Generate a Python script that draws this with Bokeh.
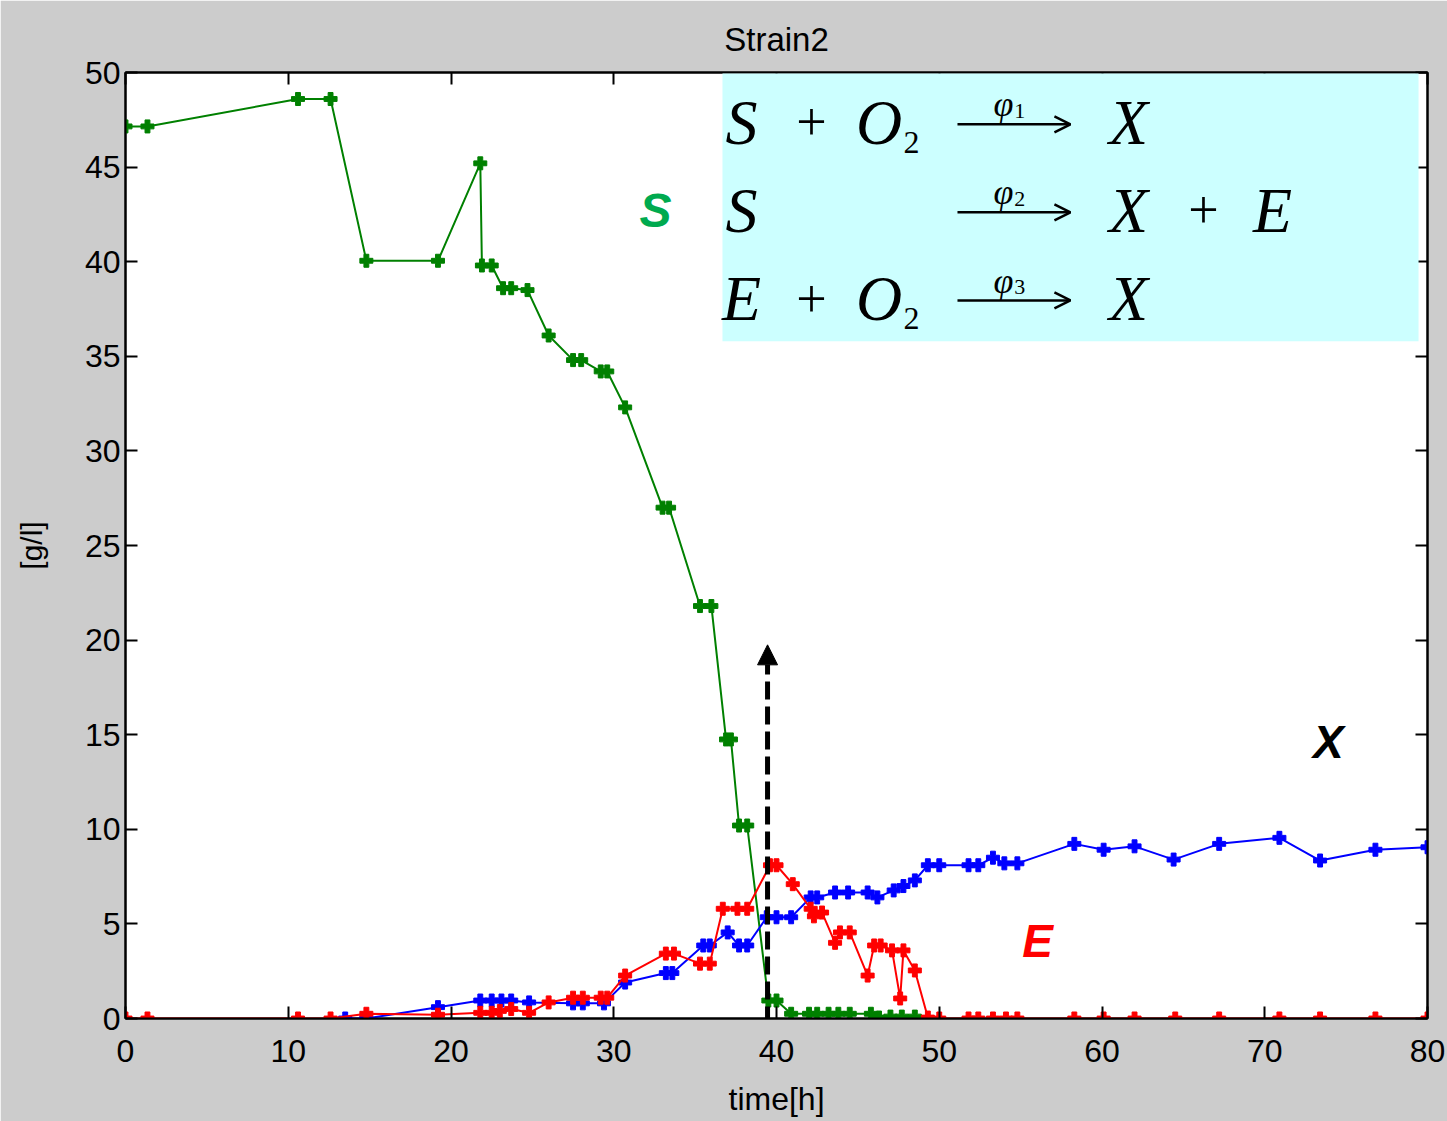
from bokeh.plotting import figure
from bokeh.models import (LinearAxis, Range1d, BoxAnnotation, Label, Arrow,
                          NormalHead, OpenHead, FixedTicker)
from bokeh.embed import file_html
from bokeh.resources import INLINE

# ---------------- data ----------------
t_S = [0, 1.35, 10.6, 12.6, 14.8, 19.2, 21.8, 21.9, 22.5, 23.2,
       23.7, 24.7, 26.0, 27.5, 28.0, 29.2, 29.6, 30.7, 33.0, 33.4,
       35.3, 36.0, 36.9, 37.2, 37.7, 38.2, 39.5, 40.0, 40.9, 42.0,
       42.5, 43.2, 43.8, 44.5, 45.8, 46.3, 47.0, 47.7, 48.5]
S = [47.15, 47.15, 48.6, 48.6, 40.05, 40.05, 45.2, 39.8, 39.8, 38.6,
     38.6, 38.5, 36.1, 34.8, 34.8, 34.2, 34.2, 32.3, 27.0, 27.0,
     21.8, 21.8, 14.75, 14.75, 10.2, 10.2, 0.95, 0.95, 0.25, 0.25,
     0.25, 0.25, 0.25, 0.25, 0.25, 0.05, 0.1, 0.1, 0.1]

t_X = [13.5, 14.8, 19.2, 21.8, 22.5, 23.1, 23.7, 24.8, 27.5, 28.1,
       29.4, 30.7, 33.2, 33.6, 35.5, 35.9, 37.0, 37.7, 38.2, 39.4,
       40.0, 40.9, 42.1, 42.5, 43.6, 44.4, 45.6, 46.2, 47.2, 47.8,
       48.5, 49.3, 50.0, 51.8, 52.4, 53.3, 54.0, 54.8, 58.3, 60.1,
       62.0, 64.4, 67.2, 70.9, 73.4, 76.8, 80.0]
X = [0, 0, 0.6, 0.95, 0.95, 0.95, 0.95, 0.85, 0.8, 0.8,
     0.8, 1.9, 2.4, 2.4, 3.86, 3.86, 4.55, 3.86, 3.86, 5.35,
     5.35, 5.35, 6.4, 6.4, 6.66, 6.66, 6.66, 6.4, 6.77, 7.0,
     7.3, 8.1, 8.1, 8.1, 8.1, 8.5, 8.2, 8.2, 9.23, 8.92,
     9.1, 8.4, 9.23, 9.55, 8.35, 8.92, 9.05]

t_E = [0, 1.35, 10.6, 12.6, 14.8, 19.2, 21.8, 22.5, 23.0, 23.7,
       24.8, 26.0, 27.5, 28.1, 29.2, 29.6, 30.7, 33.2, 33.7, 35.3,
       35.9, 36.7, 37.6, 38.2, 39.6, 40.0, 41.0, 42.1, 42.3, 42.8,
       43.6, 43.9, 44.5, 45.6, 46.0, 46.4, 47.1, 47.6, 47.8, 48.5,
       49.3, 50.0, 51.8, 52.4, 53.3, 54.1, 54.8, 58.3, 60.1, 62.0,
       64.5, 67.2, 70.9, 73.4, 76.8, 80.0]
E = [0, 0, 0, 0, 0.25, 0.2, 0.3, 0.3, 0.4, 0.5,
     0.3, 0.85, 1.1, 1.1, 1.1, 1.1, 2.27, 3.43, 3.43, 2.9,
     2.9, 5.8, 5.8, 5.8, 8.1, 8.1, 7.1, 5.8, 5.4, 5.6,
     4.0, 4.55, 4.55, 2.27, 3.86, 3.86, 3.6, 1.06, 3.6, 2.54,
     0.05, 0, 0, 0, 0, 0, 0, 0, 0, 0,
     0, 0, 0, 0, 0, 0]

x_ticks = [0, 10, 20, 30, 40, 50, 60, 70, 80]
y_ticks = [0, 5, 10, 15, 20, 25, 30, 35, 40, 45, 50]

title_text = "Strain2"
x_label = "time[h]"
y_label = "[g/l]"

GREEN = "#008000"
BLUE = "#0000ff"
RED = "#ff0000"
SANS = "Liberation Sans"
SERIF = "Liberation Serif"

p = figure(frame_width=1302, frame_height=946,
           x_range=Range1d(0, 80), y_range=Range1d(0, 50),
           output_backend="svg", toolbar_location=None,
           min_border_left=125, min_border_right=20,
           min_border_top=72, min_border_bottom=103,
           background_fill_color="white", border_fill_color="#cccccc",
           outline_line_color="black", outline_line_width=2)
p.xgrid.visible = False
p.ygrid.visible = False

p.title.text = title_text
p.title.align = "center"
p.title.text_font = SANS
p.title.text_font_size = "33px"
p.title.text_font_style = "normal"
p.title.text_color = "black"
p.title.standoff = 30


def style_axis(ax, ticks, show_labels=True):
    ax.ticker = FixedTicker(ticks=ticks)
    ax.major_tick_in = 12
    ax.major_tick_out = 0
    ax.minor_tick_in = 0
    ax.minor_tick_out = 0
    ax.axis_line_width = 2
    ax.axis_line_color = "black"
    ax.major_tick_line_width = 2
    ax.major_tick_line_color = "black"
    ax.major_label_text_font = SANS
    ax.major_label_text_font_size = "32px"
    ax.major_label_text_color = "black"
    if not show_labels:
        ax.major_label_overrides = {t: "" for t in ticks}
        ax.major_label_standoff = 0


style_axis(p.xaxis[0], x_ticks)
style_axis(p.yaxis[0], y_ticks)
p.xaxis[0].major_label_standoff = 21
p.yaxis[0].major_label_standoff = 5
p.xaxis[0].axis_label = x_label
p.yaxis[0].axis_label = y_label
for ax in (p.xaxis[0], p.yaxis[0]):
    ax.axis_label_text_font = SANS
    ax.axis_label_text_font_style = "normal"
    ax.axis_label_text_color = "black"
p.xaxis[0].axis_label_text_font_size = "32px"
p.xaxis[0].axis_label_standoff = 16
p.yaxis[0].axis_label_text_font_size = "30px"
p.yaxis[0].axis_label_standoff = 34

top_ax = LinearAxis()
style_axis(top_ax, x_ticks, show_labels=False)
p.add_layout(top_ax, "above")
right_ax = LinearAxis()
style_axis(right_ax, y_ticks, show_labels=False)
p.add_layout(right_ax, "right")

# ---------------- series ----------------
for t, v, c in ((t_S, S, GREEN), (t_X, X, BLUE), (t_E, E, RED)):
    p.line(t, v, line_color=c, line_width=2)
    p.scatter(t, v, marker="plus", size=13, line_width=1,
              line_color=c, fill_color=c)

# ---------------- annotations ----------------
p.add_layout(BoxAnnotation(left=36.68, right=79.45, bottom=35.8, top=49.95,
                           fill_color="#ccffff", fill_alpha=1.0,
                           line_color=None))


def lab(x, y, text, size, style="italic", font=SERIF, color="black"):
    p.add_layout(Label(x=x, y=y, text=text,
                       text_font=font, text_font_style=style,
                       text_font_size=size, text_color=color,
                       text_align="center", text_baseline="middle"))


rows = [47.36, 42.71, 38.05]
eq = [("S", True, "X", None), ("S", False, "X", "E"), ("E", True, "X", None)]
for i, (y, (left, has_o2, right, extra)) in enumerate(zip(rows, eq)):
    lab(37.85, y, left, "64px")
    if has_o2:
        lab(42.15, y, "+", "54px", style="normal")
        lab(46.3, y, "O", "64px")
        lab(48.3, y - 1.05, "2", "32px", style="normal")
    p.add_layout(Arrow(x_start=51.12, y_start=y - 0.1, x_end=58.06, y_end=y - 0.1,
                       line_width=2.5, line_color="black",
                       end=OpenHead(size=16, line_width=2.5, line_color="black")))
    lab(53.95, y + 0.95, "φ", "36px")
    lab(54.95, y + 0.6, str(i + 1), "22px", style="normal")
    lab(61.63, y, right, "64px")
    if extra:
        lab(66.24, y, "+", "54px", style="normal")
        lab(70.48, y, extra, "64px")

lab(32.57, 42.7, "S", "48px", style="bold italic", font=SANS, color="#00aa4f")
lab(73.9, 14.6, "X", "46px", style="bold italic", font=SANS, color="black")
lab(56.04, 4.12, "E", "46px", style="bold italic", font=SANS, color=RED)

p.add_layout(Arrow(x_start=39.45, y_start=-5.6, x_end=39.45, y_end=19.75,
                   line_width=5, line_color="black", line_dash="18 7",
                   end=NormalHead(size=20, fill_color="black", line_color="black")))

open("out.html", "w").write(file_html(p, INLINE))
